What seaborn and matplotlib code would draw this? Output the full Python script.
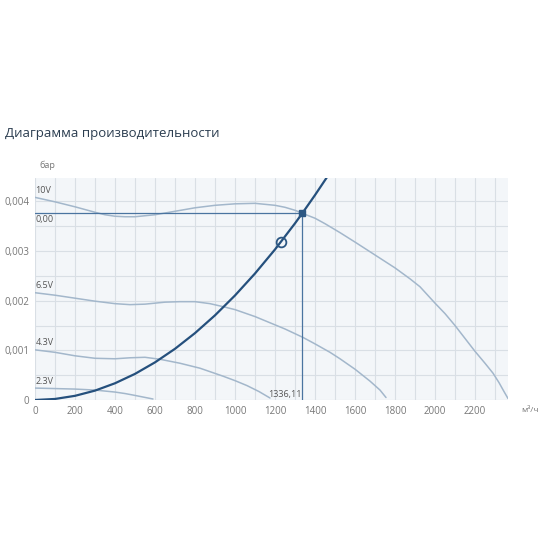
import numpy as np
import pandas as pd
import seaborn as sns
import matplotlib.pyplot as plt

# fan curves (m3/h, bar)
v10_x = [0, 100, 200, 300, 350, 400, 450, 500, 600, 700, 800, 900, 1000, 1100, 1200, 1250, 1300, 1336, 1400, 1450, 1525, 1600, 1700, 1800, 1875, 1925, 2000, 2050, 2100, 2150, 2200, 2250, 2290, 2320, 2345, 2365]
v10_y = [0.00408, 0.00399, 0.00389, 0.00378, 0.00373, 0.00370, 0.00369, 0.00369, 0.00373, 0.00380, 0.00387, 0.00392, 0.00395, 0.00396, 0.00392, 0.00388, 0.00382, 0.00376, 0.00366, 0.00355, 0.00337, 0.00318, 0.00292, 0.00266, 0.00244, 0.00228, 0.00195, 0.00174, 0.00150, 0.00124, 0.00098, 0.00074, 0.00054, 0.00035, 0.00017, 0.00003]
v65_x = [0, 100, 200, 300, 400, 475, 550, 650, 725, 800, 875, 940, 1000, 1100, 1160, 1250, 1340, 1400, 1475, 1525, 1600, 1675, 1725, 1755]
v65_y = [0.00216, 0.00211, 0.00205, 0.00199, 0.00194, 0.00192, 0.00193, 0.00197, 0.00198, 0.00198, 0.00194, 0.00188, 0.00182, 0.00168, 0.00158, 0.00143, 0.00126, 0.00113, 0.00096, 0.00083, 0.00062, 0.00038, 0.00020, 0.00005]
v43_x = [0, 100, 200, 300, 400, 475, 550, 625, 725, 825, 940, 1000, 1060, 1120, 1175]
v43_y = [0.00101, 0.00096, 0.00089, 0.00084, 0.00083, 0.00085, 0.00086, 0.00082, 0.00074, 0.00064, 0.00048, 0.00039, 0.00029, 0.00017, 0.00004]
v23_x = [0, 100, 200, 300, 350, 400, 450, 490, 540, 590]
v23_y = [0.00024, 0.00023, 0.00022, 0.00020, 0.00018, 0.00016, 0.00013, 0.00010, 0.00006, 0.00002]
fan_labels = ["10V", "6.5V", "4.3V", "2.3V"]

# system curve
sys_x = [0, 100, 200, 300, 400, 500, 600, 700, 800, 900, 1000, 1100, 1200, 1300, 1336.11, 1400, 1460]
sys_y = [0.0, 0.000021, 0.000084, 0.000189, 0.000337, 0.000526, 0.000758, 0.001031, 0.001347, 0.001705, 0.002105, 0.002547, 0.003031, 0.003557, 0.003758, 0.004126, 0.004487]

work_x = 1336.11
work_y = 0.003758
design_x = 1230
design_y = 0.003185

frames = []
for name, xs, ys in zip(fan_labels, [v10_x, v65_x, v43_x, v23_x], [v10_y, v65_y, v43_y, v23_y]):
    frames.append(pd.DataFrame({"q": xs, "p": ys, "fan": name}))
fans = pd.concat(frames, ignore_index=True)
system = pd.DataFrame({"q": sys_x, "p": sys_y})

sns.set_theme(style="whitegrid")
plt.rcParams["font.family"] = ["Open Sans", "DejaVu Sans"]

fig = plt.figure(figsize=(5.5, 5.5), dpi=100)
ax = fig.add_axes([35 / 550, 1 - 400 / 550, 473 / 550, 222 / 550])
ax.set_facecolor("#f3f6f9")

fan_col = "#a3b7cb"
line_col = "#2c5783"
for name in fan_labels:
    d = fans[fans["fan"] == name]
    sns.lineplot(data=d, x="q", y="p", ax=ax, color=fan_col, linewidth=1.1, estimator=None, sort=False)
    ax.text(d["q"].iloc[0] + 2, d["p"].iloc[0] + 0.00005, name, fontsize=6.5, color="#555555", ha="left", va="bottom")

sns.lineplot(data=system, x="q", y="p", ax=ax, color="#25507d", linewidth=1.6, estimator=None)

ax.plot([0, work_x], [work_y, work_y], color="#4a74a0", linewidth=0.9)
ax.plot([work_x, work_x], [0, work_y], color="#4a74a0", linewidth=0.9)
ax.plot(work_x, work_y, marker="s", markersize=4.5, color=line_col)
ax.plot(design_x, design_y, marker="o", markersize=7, markerfacecolor="none", markeredgecolor=line_col, markeredgewidth=1.3)
ax.text(2, work_y - 0.00004, "0,00", fontsize=6.5, color="#555555", ha="left", va="top")
ax.text(work_x - 3, 0.00003, "1336,11", fontsize=6.5, color="#555555", ha="right", va="bottom")

ax.set_xlim(0, 2365)
ax.set_ylim(0, 0.00447)
ax.set_xticks(np.arange(0, 2400, 100), minor=True)
ax.set_xticks(np.arange(0, 2201, 200))
ax.set_yticks(np.arange(0, 0.0045, 0.0005), minor=True)
ax.set_yticks([0, 0.001, 0.002, 0.003, 0.004])
ax.set_yticklabels(["0", "0,001", "0,002", "0,003", "0,004"])
ax.grid(which="both", color="#d9dfe5", linewidth=0.8)
ax.tick_params(axis="both", which="both", length=0, labelsize=7, colors="#777777", pad=4)
ax.set_xlabel("")
ax.set_ylabel("")
for s in ax.spines.values():
    s.set_visible(False)

fig.text(5 / 550, 1 - 133 / 550, "Диаграмма производительности", fontsize=9.5, color="#2b3d50", ha="left", va="center")
fig.text(47 / 550, 1 - 165 / 550, "бар", fontsize=6.5, color="#777777", ha="center", va="center")
fig.text(530 / 550, 1 - 410 / 550, "м³/ч", fontsize=6, color="#777777", ha="center", va="center")

fig.savefig("out.png", dpi=100)
